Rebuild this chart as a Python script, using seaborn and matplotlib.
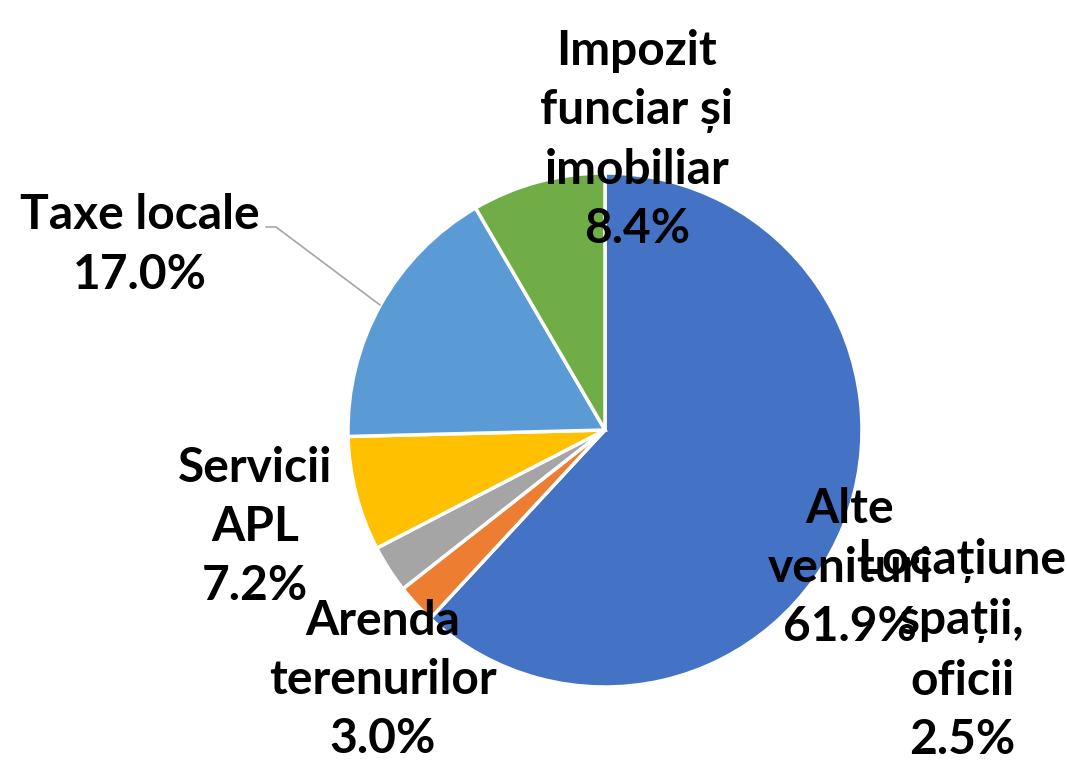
import matplotlib.pyplot as plt
import seaborn as sns

categories = ["Alte venituri", "Locațiune spații, oficii", "Arenda terenurilor",
              "Servicii APL", "Taxe locale", "Impozit funciar și imobiliar"]
shares = [61.9, 2.5, 3.0, 7.2, 17.0, 8.4]
label_text = ["Alte\nvenituri", "Locațiune\nspații,\noficii", "Arenda\nterenurilor",
              "Servicii\nAPL", "Taxe locale", "Impozit\nfunciar și\nimobiliar"]
colors = ["#4472C4", "#ED7D31", "#A5A5A5", "#FFC000", "#5B9BD5", "#70AD47"]

# label block centres in pixels (x, y from top) of the 1067x764 picture
label_px = [(850, 568), (962, 650), (383, 680), (255, 527), (140, 245), (637, 140)]

sns.set_theme(style="white")
plt.rcParams['font.family'] = ['Lato', 'DejaVu Sans']

W, H = 1067, 764
cx, cy, r = 605, 430, 257
fig = plt.figure(figsize=(W / 100, H / 100), dpi=100)
ax = fig.add_axes([(cx - r) / W, (H - cy - r) / H, 2 * r / W, 2 * r / H])
ax.pie(shares, colors=colors, startangle=90, counterclock=False, radius=1,
       wedgeprops=dict(edgecolor="white", linewidth=2.5))
ax.set_xlim(-1, 1)
ax.set_ylim(-1, 1)
ax.set_aspect("equal")
ax.axis("off")

for txt, val, (px, py) in zip(label_text, shares, label_px):
    x = (px - cx) / r
    y = (cy - py) / r
    ax.text(x, y, f"{txt}\n{val:.1f}%", ha="center", va="center", fontsize=34.5,
            fontweight="bold", color="black", linespacing=1.42, clip_on=False)

# leader line for "Taxe locale"
ax.plot([(266 - cx) / r, (276 - cx) / r, (380 - cx) / r],
        [(cy - 227) / r, (cy - 227) / r, (cy - 305) / r],
        color="#A5A5A5", linewidth=1.2, clip_on=False)

fig.savefig("out.png", dpi=100)
